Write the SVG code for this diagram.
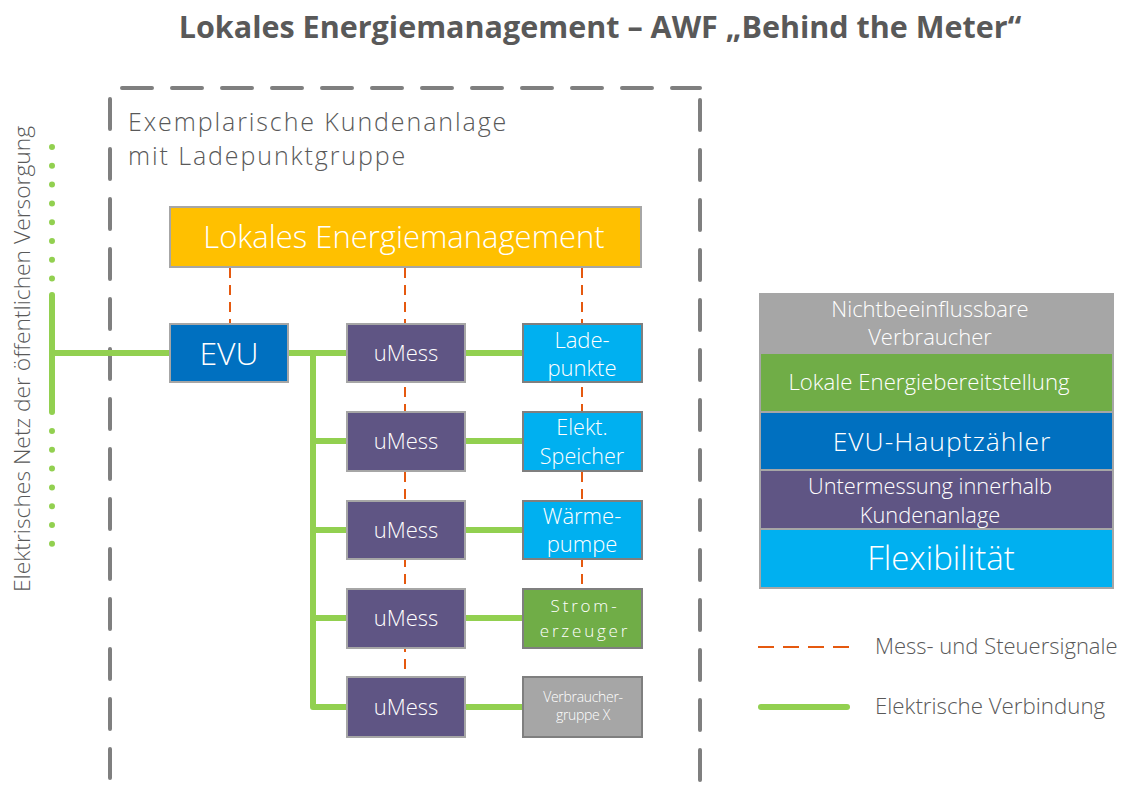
<svg xmlns="http://www.w3.org/2000/svg" width="1125" height="789" viewBox="0 0 1125 789">
<style>
text{font-family:"Open Sans","Noto Sans","Liberation Sans",sans-serif;}
.t{fill:#595959;font-weight:300;}
.w{fill:#ffffff;font-weight:300;text-anchor:middle;}
.box{stroke:#A6A6A6;stroke-width:2;}
.rbox{stroke:#7F7F7F;stroke-width:2;}
.border{fill:none;stroke:#7F7F7F;stroke-width:4;stroke-linecap:round;stroke-dasharray:30 20;}
.green{fill:none;stroke:#92D050;stroke-width:6;stroke-linejoin:round;}
.sig{fill:none;stroke:#E5590F;stroke-width:2;stroke-dasharray:10 7;}
</style>
<rect width="1125" height="789" fill="#ffffff"/>
<text x="600" y="38" text-anchor="middle" font-size="30.5" font-weight="700" fill="#595959">Lokales Energiemanagement – AWF „Behind the Meter“</text>

<g id="kundenanlage">
<path class="border" d="M122 88 H700"/>
<path class="border" d="M110 99 V778"/>
<path class="border" d="M700 100 V785"/>
<text class="t" x="128" y="131" font-size="25" letter-spacing="1.9">Exemplarische Kundenanlage</text>
<text class="t" x="128" y="165" font-size="25" letter-spacing="1.9">mit Ladepunktgruppe</text>
</g>

<g id="netz">
<text class="t" transform="translate(30,359) rotate(-90)" text-anchor="middle" font-size="22.8">Elektrisches Netz der öffentlichen Versorgung</text>
<path d="M52 147 V290" fill="none" stroke="#92D050" stroke-width="6" stroke-linecap="round" stroke-dasharray="0 18.8"/>
<path d="M52 431 V545" fill="none" stroke="#92D050" stroke-width="6" stroke-linecap="round" stroke-dasharray="0 18.8"/>
<path d="M52 295 V412" fill="none" stroke="#92D050" stroke-width="6" stroke-linecap="round"/>
</g>

<g id="connectors">
<path class="green" d="M52 353 H170"/>
<path class="green" d="M288 353 H347"/>
<path class="green" d="M313 353 V707 H347"/>
<path class="green" d="M313 441 H347 M313 530 H347 M313 618 H347"/>
<path class="green" d="M465 353 H523 M465 441 H523 M465 530 H523 M465 618 H523 M465 707 H523"/>
<path class="sig" d="M230 268 V324"/>
<path class="sig" d="M405 268 V677"/>
<path class="sig" d="M582 268 V589"/>
</g>

<g id="lem">
<rect class="box" x="170" y="207" width="471" height="60" fill="#FFC000"/>
<text class="w" x="404" y="248" font-size="31">Lokales Energiemanagement</text>
</g>

<g id="evu">
<rect class="box" x="170" y="324" width="118" height="58" fill="#0070C0"/>
<text class="w" x="229" y="365" font-size="32">EVU</text>
</g>

<g id="umess1"><rect class="box" x="347" y="324" width="118" height="58" fill="#5F5584"/><text class="w" x="406" y="361" font-size="22">uMess</text></g>
<g id="umess2"><rect class="box" x="347" y="412" width="118" height="59" fill="#5F5584"/><text class="w" x="406" y="449" font-size="22">uMess</text></g>
<g id="umess3"><rect class="box" x="347" y="501" width="118" height="58" fill="#5F5584"/><text class="w" x="406" y="538" font-size="22">uMess</text></g>
<g id="umess4"><rect class="box" x="347" y="589" width="118" height="59" fill="#5F5584"/><text class="w" x="406" y="626" font-size="22">uMess</text></g>
<g id="umess5"><rect class="box" x="347" y="677" width="118" height="60" fill="#5F5584"/><text class="w" x="406" y="715" font-size="22">uMess</text></g>

<g id="ladepunkte"><rect class="rbox" x="523" y="324" width="119" height="58" fill="#00B0F0"/><text class="w" x="582" y="348" font-size="22">Lade-</text><text class="w" x="582" y="376" font-size="22">punkte</text></g>
<g id="speicher"><rect class="rbox" x="523" y="412" width="119" height="59" fill="#00B0F0"/><text class="w" x="582" y="435" font-size="21.5">Elekt.</text><text class="w" x="582" y="464" font-size="21.5">Speicher</text></g>
<g id="waermepumpe"><rect class="rbox" x="523" y="501" width="119" height="58" fill="#00B0F0"/><text class="w" x="582" y="524" font-size="22">Wärme-</text><text class="w" x="582" y="552" font-size="22">pumpe</text></g>
<g id="stromerzeuger"><rect class="rbox" x="523" y="589" width="119" height="59" fill="#70AD47"/><text class="w" x="585" y="612" font-size="17" letter-spacing="2.8">Strom-</text><text class="w" x="585" y="637" font-size="17" letter-spacing="2.8">erzeuger</text></g>
<g id="verbrauchergruppe"><rect class="rbox" x="523" y="677" width="119" height="60" fill="#A6A6A6"/><text class="w" x="583" y="702" font-size="14" letter-spacing="-0.3">Verbraucher-</text><text class="w" x="583" y="720" font-size="14" letter-spacing="-0.3">gruppe X</text></g>

<g id="legende">
<rect class="box" x="760" y="294" width="353" height="59" fill="#A6A6A6"/>
<rect class="box" x="760" y="353" width="353" height="59" fill="#70AD47"/>
<rect class="box" x="760" y="412" width="353" height="58" fill="#0070C0"/>
<rect class="box" x="760" y="470" width="353" height="59" fill="#5F5584"/>
<rect class="box" x="760" y="529" width="353" height="59" fill="#00B0F0"/>
<text class="w" x="930" y="317" font-size="22">Nichtbeeinflussbare</text>
<text class="w" x="930" y="345" font-size="22">Verbraucher</text>
<text class="w" x="929" y="390" font-size="22.2">Lokale Energiebereitstellung</text>
<text class="w" x="942" y="451" font-size="26.5" letter-spacing="1">EVU-Hauptzähler</text>
<text class="w" x="930" y="494" font-size="21.8">Untermessung innerhalb</text>
<text class="w" x="930" y="523" font-size="21.8">Kundenanlage</text>
<text class="w" x="941" y="570" font-size="33">Flexibilität</text>
<path d="M758 647 H850" fill="none" stroke="#E5590F" stroke-width="2" stroke-dasharray="16 9"/>
<text class="t" x="875" y="654" font-size="22">Mess- und Steuersignale</text>
<path d="M761 707 H847" fill="none" stroke="#92D050" stroke-width="6" stroke-linecap="round"/>
<text class="t" x="875" y="714" font-size="22.3">Elektrische Verbindung</text>
</g>
</svg>
